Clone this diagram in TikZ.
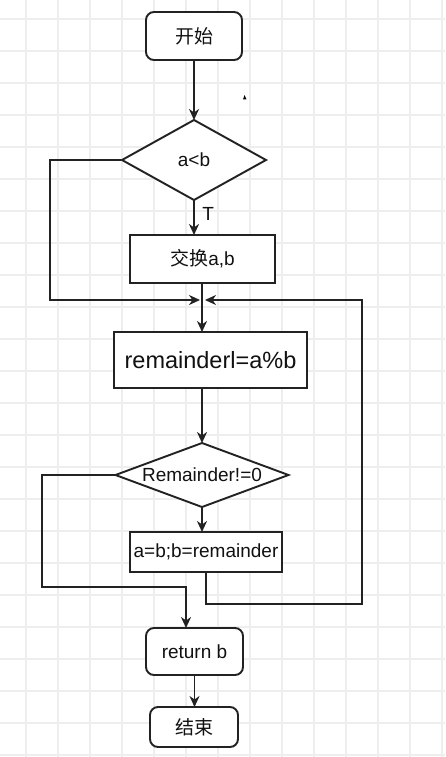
\documentclass[tikz,border=0pt]{standalone}
\usepackage{fontspec}
\setmainfont{Liberation Sans}
\newfontfamily\cjk{Noto Sans CJK SC}
\usetikzlibrary{shapes.geometric,arrows.meta}

\definecolor{inkline}{HTML}{222222}
\definecolor{inktext}{HTML}{111111}
\definecolor{gridgray}{HTML}{EEEEEE}

\tikzset{
  gridline/.style={draw=gridgray, line width=1.2pt},
  flowline/.style={draw=inkline, line width=1.9pt},
  arr/.style={flowline, -{Stealth[length=11pt,width=10pt,inset=3.5pt]}},
  termbox/.style={draw=inkline, line width=1.9pt, fill=white, rounded corners=8pt,
                  inner sep=0pt, outer sep=0pt, text=inktext, font=\fontsize{19}{23}\selectfont},
  procbox/.style={draw=inkline, line width=1.9pt, fill=white,
                  inner sep=0pt, outer sep=0pt, text=inktext, font=\fontsize{19}{23}\selectfont},
  testbox/.style={diamond, draw=inkline, line width=1.9pt, fill=white,
                  inner sep=0pt, outer sep=0pt, text=inktext, font=\fontsize{19}{23}\selectfont},
}

\begin{document}
\begin{tikzpicture}[x=1pt, y=-1pt, line cap=butt, line join=miter]

  %% ════ 画布 + 网格 ════
  \fill[white] (0,0) rectangle (445,757);
  \foreach \gx in {26,58,...,442} \draw[gridline] (\gx,0) -- (\gx,757);
  \foreach \gy in {19,51,...,755} \draw[gridline] (0,\gy) -- (445,\gy);

  %% ════ 结点 ════
  \node[termbox, minimum width=96, minimum height=48] (start) at (194,36) {\cjk 开始};
  \node[testbox, aspect=1.8, minimum width=144, minimum height=80] (lessab) at (194,160) {a<b};
  \node[procbox, minimum width=145, minimum height=48] (swap) at (202.5,259) {{\cjk 交换}a,b};
  \node[procbox, minimum width=193, minimum height=56, font=\fontsize{23.5}{28}\selectfont]
       (remcalc) at (210.5,360) {remainderl=a\%b};
  \node[testbox, aspect=2.7, minimum width=173, minimum height=64] (remtest) at (202,475) {Remainder!=0};
  \node[procbox, minimum width=152, minimum height=40] (assign) at (206,552) {a=b;b=remainder};
  \node[termbox, minimum width=97, minimum height=47] (ret) at (194.5,651.5) {return b};
  \node[termbox, minimum width=88, minimum height=40] (finish) at (194,727) {\cjk 结束};

  %% 汇合点 / 折点
  \coordinate (loopL)  at (50,300);
  \coordinate (mergeL) at (200,300);
  \coordinate (loopR)  at (362,604);
  \coordinate (mergeR) at (205,300);
  \coordinate (loopB)  at (42,587);
  \coordinate (retIn)  at (186,628);

  %% ════ 连线 ════
  \draw[arr] (start) -- (start |- lessab.north);
  \draw[arr] (lessab.south) -- (lessab.south |- swap.north)
        node[pos=0.4, right=4pt, text=inktext, font=\fontsize{19}{23}\selectfont] (tlabel) {T};
  \draw[arr] (lessab.west) -| (loopL) -- (mergeL);
  \draw[arr] (202,283) -- (202,332);   % 交换 -> remainderl
  \draw[arr] (remtest.north |- remcalc.south) -- (remtest.north);
  \draw[arr] (remtest.south) -- (remtest.south |- assign.north);
  \draw[arr] (assign.south) |- (loopR) |- (mergeR);
  \draw[arr] (remtest.west) -| (loopB) -| (retIn);
  \draw[arr] (ret.south) -- (ret.south |- finish.north);

  %% 小三角（原图残留）
  \fill[black] (243,99.5) -- (246.5,99.5) -- (244.5,95) -- cycle;

  \pgfresetboundingbox
  \path[use as bounding box] (0,0) rectangle (445,757);
\end{tikzpicture}
\end{document}
